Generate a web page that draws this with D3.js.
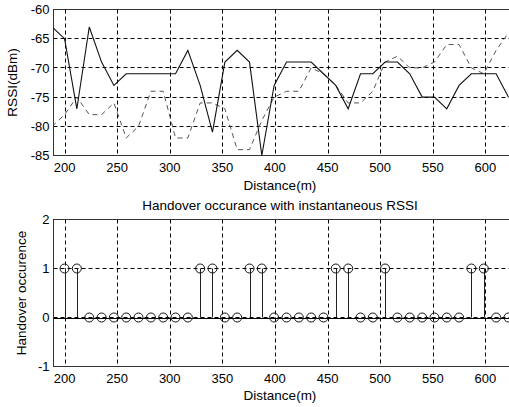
<!DOCTYPE html>
<html>
<head>
<meta charset="utf-8">
<script src="https://cdn.jsdelivr.net/npm/d3@7"></script>
<style>
  body { margin: 0; background: #fff; }
  svg text { font-family: "Liberation Sans", Arial, sans-serif; fill: #000; }
  .tick { font-size: 13px; }
  .lbl { font-size: 13.5px; }
</style>
</head>
<body>
<div id="chart"></div>
<script>
// ......................
// Data
var distance = [188.3, 200, 211.7, 223.5, 235.2, 246.9, 258.6, 270.3, 282.1, 293.8,
    305.5, 317.2, 328.9, 340.6, 352.4, 364.1, 375.8, 387.5, 399.2, 411,
    422.7, 434.4, 446.1, 457.8, 469.6, 481.3, 493, 504.7, 516.4, 528.1,
    539.9, 551.6, 563.3, 575, 586.7, 598.5, 610.2, 621.9];

// solid line
var rssiServing = [-63, -65, -77, -63, -69, -73, -71, -71, -71, -71,
    -71, -67, -73, -81, -69, -67, -69, -85, -73, -69,
    -69, -69, -71, -73, -77, -71, -71, -69, -69, -71,
    -75, -75, -77, -73, -71, -71, -71, -75];

// dashed line
var rssiTarget = [-80, -78, -75, -78, -78, -76, -82, -80, -74, -74,
    -82, -82, -76, -76, -77, -84, -84, -79, -75, -74,
    -74, -70, -71, -73, -76, -76, -74, -69, -68, -70,
    -70, -69, -66, -66, -70, -71, -67, -64];

// stems start at 200 m
var handoverDistance = [200, 211.7, 223.5, 235.2, 246.9, 258.6, 270.3, 282.1, 293.8,
    305.5, 317.2, 328.9, 340.6, 352.4, 364.1, 375.8, 387.5, 399.2, 411,
    422.7, 434.4, 446.1, 457.8, 469.6, 481.3, 493, 504.7, 516.4, 528.1,
    539.9, 551.6, 563.3, 575, 586.7, 598.5, 610.2, 621.9];
var handover = [1, 1, 0, 0, 0, 0, 0, 0, 0, 0, 0, 1, 1, 0, 0, 1, 1, 0, 0, 0,
    0, 0, 1, 1, 0, 0, 1, 0, 0, 0, 0, 0, 0, 1, 1, 0, 0];

var xTicks = [200, 250, 300, 350, 400, 450, 500, 550, 600];
var rssiTicks = [-60, -65, -70, -75, -80, -85];
var handoverTicks = [-1, 0, 1, 2];

// ......................
// SVG area
var svgWidth = 509;
var svgHeight = 407;

var svg = d3.select("#chart")
    .append("svg")
    .attr("width", svgWidth)
    .attr("height", svgHeight);

var left = 53.5;
var right = 510;

var xScale = d3.scaleLinear()
    .domain([189.5, 623.4])
    .range([left, right]);

// draws box, grid and tick labels for one axes
function drawFrame(yScale, yTicks, top, bottom, clipId) {
    var g = svg.append("g");

    g.append("rect")
        .attr("x", left).attr("y", top)
        .attr("width", right - left).attr("height", bottom - top)
        .attr("fill", "#fff");

    // grid lines
    g.selectAll(".vgrid").data(xTicks).enter()
        .append("line")
        .attr("x1", d => Math.round(xScale(d)) + 0.5)
        .attr("x2", d => Math.round(xScale(d)) + 0.5)
        .attr("y1", top).attr("y2", bottom)
        .attr("stroke", "#000")
        .attr("stroke-dasharray", "4,3");

    g.selectAll(".hgrid").data(yTicks).enter()
        .append("line")
        .attr("x1", left).attr("x2", right)
        .attr("y1", d => Math.round(yScale(d) - 0.5) + 0.5)
        .attr("y2", d => Math.round(yScale(d) - 0.5) + 0.5)
        .attr("stroke", "#000")
        .attr("stroke-dasharray", "4,3");

    g.append("rect")
        .attr("x", left).attr("y", top)
        .attr("width", right - left).attr("height", bottom - top)
        .attr("fill", "none")
        .attr("stroke", "#333");

    // tick labels
    g.selectAll(".xl").data(xTicks).enter()
        .append("text")
        .attr("class", "tick")
        .attr("x", d => xScale(d))
        .attr("y", bottom + 16)
        .attr("text-anchor", "middle")
        .text(d => d);

    g.selectAll(".yl").data(yTicks).enter()
        .append("text")
        .attr("class", "tick")
        .attr("x", left - 4)
        .attr("y", d => yScale(d))
        .attr("dy", "0.36em")
        .attr("text-anchor", "end")
        .text(d => d);

    svg.append("clipPath")
        .attr("id", clipId)
        .append("rect")
        .attr("x", left).attr("y", top)
        .attr("width", right - left).attr("height", bottom - top);
}

// ......................
// Top: RSSI vs distance
var top1 = 9.5, bottom1 = 155.5;
var yRssi = d3.scaleLinear()
    .domain([-85, -60])
    .range([bottom1, top1]);

drawFrame(yRssi, rssiTicks, top1, bottom1, "clipTop");

var rssiLine = (values) => d3.line()
    .x((d, i) => xScale(distance[i]))
    .y(d => yRssi(d))(values);

var plotTop = svg.append("g").attr("clip-path", "url(#clipTop)");

plotTop.append("path")
    .attr("d", rssiLine(rssiTarget))
    .attr("fill", "none")
    .attr("stroke", "#555")
    .attr("stroke-width", 1)
    .attr("stroke-dasharray", "5,4");

plotTop.append("path")
    .attr("d", rssiLine(rssiServing))
    .attr("fill", "none")
    .attr("stroke", "#111")
    .attr("stroke-width", 1.1);

svg.append("text")
    .attr("class", "lbl")
    .attr("x", 280).attr("y", 190)
    .attr("text-anchor", "middle")
    .text("Distance(m)");

svg.append("text")
    .attr("class", "lbl")
    .attr("transform", `translate(17, ${(top1 + bottom1) / 2}) rotate(-90)`)
    .attr("text-anchor", "middle")
    .text("RSSI(dBm)");

// ......................
// Bottom: handover stems
var top2 = 219.5, bottom2 = 366.5;
var yHand = d3.scaleLinear()
    .domain([-1, 2])
    .range([bottom2, top2]);

drawFrame(yHand, handoverTicks, top2, bottom2, "clipBot");

var plotBot = svg.append("g");

// baseline at zero
plotBot.append("line")
    .attr("x1", left).attr("x2", right)
    .attr("y1", Math.round(yHand(0)) + 0.5)
    .attr("y2", Math.round(yHand(0)) + 0.5)
    .attr("stroke", "#000");

var stems = handover.map((v, i) => ({x: handoverDistance[i], v: v}));

plotBot.selectAll(".stem").data(stems.filter(d => d.v !== 0)).enter()
    .append("line")
    .attr("x1", d => Math.round(xScale(d.x)) + 0.5)
    .attr("x2", d => Math.round(xScale(d.x)) + 0.5)
    .attr("y1", yHand(0))
    .attr("y2", d => yHand(d.v))
    .attr("stroke", "#222");

plotBot.selectAll(".marker").data(stems).enter()
    .append("circle")
    .attr("cx", d => xScale(d.x))
    .attr("cy", d => yHand(d.v))
    .attr("r", 4.5)
    .attr("fill", "none")
    .attr("stroke", "#111");

svg.append("text")
    .attr("class", "lbl")
    .attr("x", 280).attr("y", 210)
    .attr("text-anchor", "middle")
    .text("Handover occurance with instantaneous RSSI");

svg.append("text")
    .attr("class", "lbl")
    .attr("x", 280).attr("y", 400)
    .attr("text-anchor", "middle")
    .text("Distance(m)");

svg.append("text")
    .attr("class", "lbl")
    .attr("transform", `translate(26, ${(top2 + bottom2) / 2}) rotate(-90)`)
    .attr("text-anchor", "middle")
    .text("Handover occurence");
</script>
</body>
</html>
